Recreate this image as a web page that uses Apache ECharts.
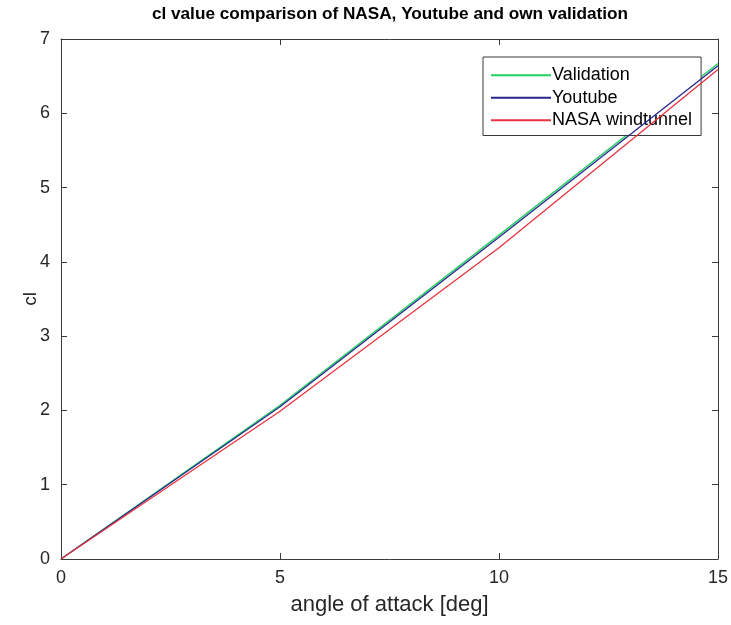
<!DOCTYPE html>
<html>
<head>
<meta charset="utf-8">
<script src="https://cdn.jsdelivr.net/npm/echarts@6/dist/echarts.min.js"></script>
<style>
  html, body { margin: 0; padding: 0; background: #fff; }
  #chart { width: 731px; height: 625px; }
</style>
</head>
<body>
<div id="chart"></div>
<script>
// Angle of attack in degrees
const angles = [0, 5, 10, 15];
// Lift coefficient per source
const validationCl = [0, 2.07, 4.36, 6.67];
const youtubeCl = [0, 2.05, 4.33, 6.64];
const nasaCl = [0, 1.99, 4.19, 6.59];

const seriesNames = ['Validation', 'Youtube', 'NASA windtunnel'];
const xTicks = [0, 5, 10, 15];
const yTicks = [0, 1, 2, 3, 4, 5, 6, 7];

const FONT = "'Liberation Sans', Arial, Helvetica, sans-serif";
const AXIS_COLOR = '#3a3a3a';
const TEXT_COLOR = '#262626';

const pairs = (xs, ys) => xs.map((x, i) => [x, ys[i]]);

const frameAxis = {
  axisLine: { show: true, onZero: false, lineStyle: { color: AXIS_COLOR, width: 1 } },
  axisTick: { show: true, inside: true, length: 6, lineStyle: { color: AXIS_COLOR } },
  splitLine: { show: false }
};

const chart = echarts.init(document.getElementById('chart'), null, { renderer: 'canvas' });

chart.setOption({
  backgroundColor: '#ffffff',
  animation: false,
  title: {
    text: 'cl value comparison of NASA, Youtube and own validation',
    left: 385,
    top: 1,
    textAlign: 'center',
    textStyle: { fontFamily: FONT, fontSize: 17.2, fontWeight: 'bold', color: '#000' }
  },
  grid: { left: 61, right: 13, top: 39, bottom: 66, containLabel: false },
  legend: {
    orient: 'vertical',
    left: 483,
    top: 57,
    padding: [7, 9, 4, 7],
    itemGap: 0,
    itemWidth: 60,
    itemHeight: 2,
    backgroundColor: '#ffffff',
    borderColor: AXIS_COLOR,
    borderWidth: 1,
    borderRadius: 0,
    itemStyle: { opacity: 0 },
    data: seriesNames,
    textStyle: {
      fontFamily: FONT, fontSize: 18, color: '#000', lineHeight: 22.5,
      padding: [0, 0, 0, -4]
    }
  },
  xAxis: [
    Object.assign({
      type: 'value', position: 'bottom', min: 0, max: 15, interval: 5,
      name: 'angle of attack [deg]', nameLocation: 'middle', nameGap: 35,
      nameMoveOverlap: false,
      nameTextStyle: { fontFamily: FONT, fontSize: 22, color: TEXT_COLOR },
      axisLabel: {
        fontFamily: FONT, fontSize: 18, color: TEXT_COLOR, margin: 10,
        formatter: v => xTicks.includes(v) ? String(v) : ''
      }
    }, frameAxis),
    Object.assign({
      type: 'value', position: 'top', min: 0, max: 15, interval: 5,
      axisLabel: { show: false }
    }, frameAxis)
  ],
  yAxis: [
    Object.assign({
      type: 'value', position: 'left', min: 0, max: 7, interval: 1,
      name: 'cl', nameLocation: 'middle', nameGap: 21,
      nameMoveOverlap: false,
      nameTextStyle: { fontFamily: FONT, fontSize: 19, color: TEXT_COLOR },
      axisLabel: {
        fontFamily: FONT, fontSize: 18, color: TEXT_COLOR, margin: 11,
        formatter: v => yTicks.includes(v) ? String(v) : ''
      }
    }, frameAxis),
    Object.assign({
      type: 'value', position: 'right', min: 0, max: 7, interval: 1,
      axisLabel: { show: false }
    }, frameAxis)
  ],
  series: [
    {
      name: seriesNames[0], type: 'line', xAxisIndex: 0, yAxisIndex: 0,
      data: pairs(angles, validationCl), symbol: 'none', z: 3,
      lineStyle: { color: '#22d060', width: 1.3 }, itemStyle: { color: '#22d060' }
    },
    {
      name: seriesNames[1], type: 'line', xAxisIndex: 0, yAxisIndex: 0,
      data: pairs(angles, youtubeCl), symbol: 'none', z: 4,
      lineStyle: { color: '#26268f', width: 1.3 }, itemStyle: { color: '#26268f' }
    },
    {
      name: seriesNames[2], type: 'line', xAxisIndex: 0, yAxisIndex: 0,
      data: pairs(angles, nasaCl), symbol: 'none', z: 5,
      lineStyle: { color: '#e8323f', width: 1.3 }, itemStyle: { color: '#e8323f' }
    }
  ]
});
</script>
</body>
</html>
